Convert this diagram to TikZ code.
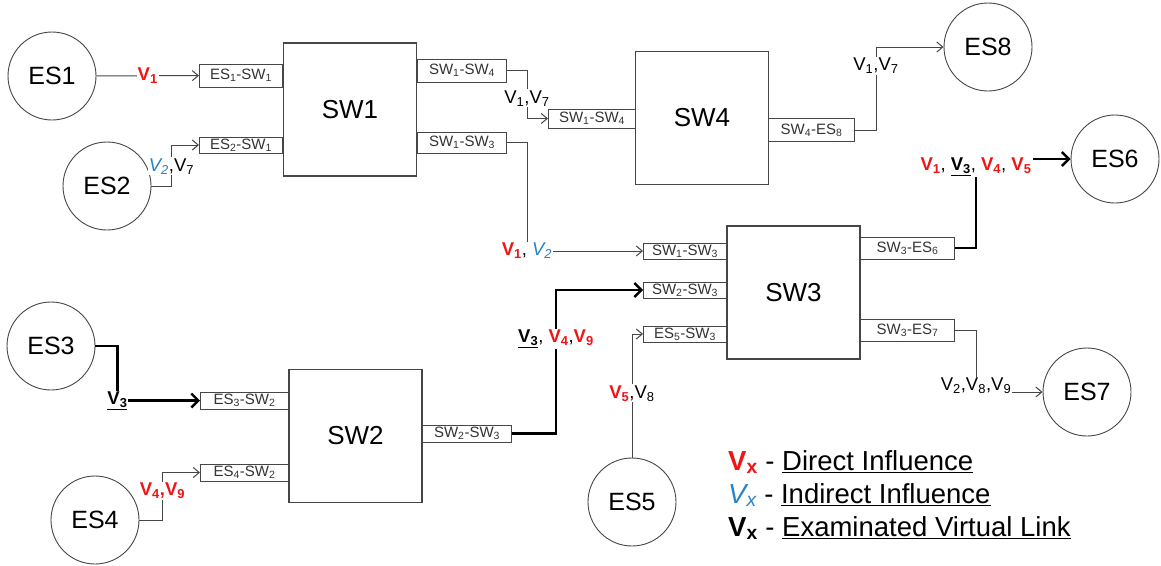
\documentclass[tikz,border=0pt]{standalone}
\usepackage{fontspec}
\setmainfont{Liberation Sans}
\usetikzlibrary{positioning,calc,arrows.meta}

\definecolor{dirred}{RGB}{240,20,20}
\definecolor{indblue}{RGB}{40,130,200}
\definecolor{linegray}{RGB}{70,70,70}

\newcommand{\dV}[1]{\textcolor{dirred}{\textbf{V\textsubscript{#1}}}}
\newcommand{\iV}[1]{\textcolor{indblue}{\textit{V\textsubscript{#1}}}}
\newcommand{\eV}[1]{\underline{\textbf{V\textsubscript{#1}}}}
\newcommand{\nV}[1]{V\textsubscript{#1}}

\tikzset{
  es/.style={circle,draw=linegray,line width=0.9pt,minimum size=88pt,inner sep=0pt,font=\fontsize{25}{30}\selectfont},
  sw/.style={draw=linegray,line width=1.1pt,minimum width=133pt,minimum height=133pt,font=\fontsize{26}{30}\selectfont},
  port/.style={draw=linegray,line width=1pt,fill=white,inner sep=0pt,text=black!80,font=\fontsize{15}{17}\selectfont},
  lbl/.style={fill=white,inner sep=1pt,font=\fontsize{18.5}{21}\selectfont},
  legend/.style={anchor=west,inner sep=0pt,font=\fontsize{27.5}{32}\selectfont},
  vl/.style={draw=linegray,line width=1pt,-{Straight Barb[length=6pt,width=10pt]}},
  exvl/.style={draw=black,line width=2.4pt,-{Straight Barb[length=7pt,width=14pt]}},
}

\begin{document}
\begin{tikzpicture}[x=1pt,y=-1pt]
  \useasboundingbox (0,0) rectangle (1161,565);

  % switches
  \node[sw] (sw1) at (350,109.5) {SW1};
  \node[sw] (sw4) at (702,118) {SW4};
  \node[sw] (sw3) at (793.5,292.5) {SW3};
  \node[sw] (sw2) at (355.5,436) {SW2};

  % end systems
  \node[es] (es1) at (52,76) {ES1};
  \node[es] (es2) at (107,186) {ES2};
  \node[es] (es3) at (51,346) {ES3};
  \node[es] (es4) at (95,520) {ES4};
  \node[es] (es5) at (632,502) {ES5};
  \node[es] (es6) at (1115,159) {ES6};
  \node[es] (es7) at (1087,392) {ES7};
  \node[es] (es8) at (988,47) {ES8};

  % ports
  \node[port,anchor=east,minimum width=83pt,minimum height=23pt] (p11) at (283,75.5) {ES\textsubscript{1}-SW\textsubscript{1}};
  \node[port,anchor=east,minimum width=83pt,minimum height=16pt] (p21) at (283,145) {ES\textsubscript{2}-SW\textsubscript{1}};
  \node[port,anchor=west,minimum width=89pt,minimum height=23pt] (p14o) at (417,70.5) {SW\textsubscript{1}-SW\textsubscript{4}};
  \node[port,anchor=west,minimum width=89pt,minimum height=21pt] (p13o) at (417,142.5) {SW\textsubscript{1}-SW\textsubscript{3}};
  \node[port,anchor=east,minimum width=87pt,minimum height=19pt] (p14i) at (636,118.5) {SW\textsubscript{1}-SW\textsubscript{4}};
  \node[port,anchor=west,minimum width=86pt,minimum height=23pt] (p48) at (768,130) {SW\textsubscript{4}-ES\textsubscript{8}};
  \node[port,anchor=east,minimum width=83pt,minimum height=16pt] (p13i) at (727,251) {SW\textsubscript{1}-SW\textsubscript{3}};
  \node[port,anchor=east,minimum width=83pt,minimum height=16pt] (p23i) at (727,290) {SW\textsubscript{2}-SW\textsubscript{3}};
  \node[port,anchor=east,minimum width=83pt,minimum height=16pt] (p53) at (727,334) {ES\textsubscript{5}-SW\textsubscript{3}};
  \node[port,anchor=west,minimum width=94pt,minimum height=22pt] (p36) at (860,248) {SW\textsubscript{3}-ES\textsubscript{6}};
  \node[port,anchor=west,minimum width=94pt,minimum height=22pt] (p37) at (860,330.5) {SW\textsubscript{3}-ES\textsubscript{7}};
  \node[port,anchor=east,minimum width=88pt,minimum height=17pt] (p32) at (289,400.5) {ES\textsubscript{3}-SW\textsubscript{2}};
  \node[port,anchor=east,minimum width=88pt,minimum height=17pt] (p42) at (289,472.5) {ES\textsubscript{4}-SW\textsubscript{2}};
  \node[port,anchor=west,minimum width=89pt,minimum height=17pt] (p23o) at (422,433.5) {SW\textsubscript{2}-SW\textsubscript{3}};

  % virtual links
  \draw[vl] (es1) -- node[lbl]{\dV{1}} (p11);
  \draw[vl] (es2.east) -- ++(20,0) |- node[lbl,pos=0.24]{\iV{2},\nV{7}} (p21.west);
  \draw[vl] (p14o.east) -- ++(20,0) |- node[lbl,pos=0.29]{\nV{1},\nV{7}} (p14i.west);
  \draw[vl] (p13o.east) -- ++(20,0) |- node[lbl,pos=0.5]{\dV{1}, \iV{2}} (p13i.west);
  \draw[vl] (p48.east) -- ++(21,0) |- node[lbl,pos=0.385]{\nV{1},\nV{7}} (es8);
  \draw[exvl] (p36.east) -- ++(21,0) |- node[lbl,pos=0.5,yshift=-8pt]{\dV{1}, \eV{3}, \dV{4}, \dV{5}} (es6);
  \draw[vl] (p37.east) -- ++(21,0) |- node[lbl,pos=0.5,yshift=6pt]{\nV{2},\nV{8},\nV{9}} (es7);
  \draw[vl] (es5.north) |- node[lbl,pos=0.26]{\dV{5},\nV{8}} (p53.west);
  \draw[exvl] (es3.east) -- ++(22,0) |- node[lbl,pos=0.5]{\eV{3}} (p32.west);
  \draw[vl] (es4.east) -- ++(23,0) |- node[lbl,pos=0.31]{\textcolor{dirred}{\textbf{V\textsubscript{4},V\textsubscript{9}}}} (p42.west);
  \draw[exvl] (p23o.east) -- ++(44,0) |- node[lbl,pos=0.33]{\eV{3}, \dV{4},\dV{9}} (p23i.west);

  % legend
  \node[legend] (leg1) at (728,462) {\textcolor{dirred}{\textbf{V\textsubscript{x}}} - \underline{Direct Influence}};
  \node[legend] (leg2) at (728,495) {\textcolor{indblue}{\textit{V\textsubscript{x}}} - \underline{Indirect Influence}};
  \node[legend] (leg3) at (728,528) {\textbf{V\textsubscript{x}} - \underline{Examinated Virtual Link}};
\end{tikzpicture}
\end{document}
